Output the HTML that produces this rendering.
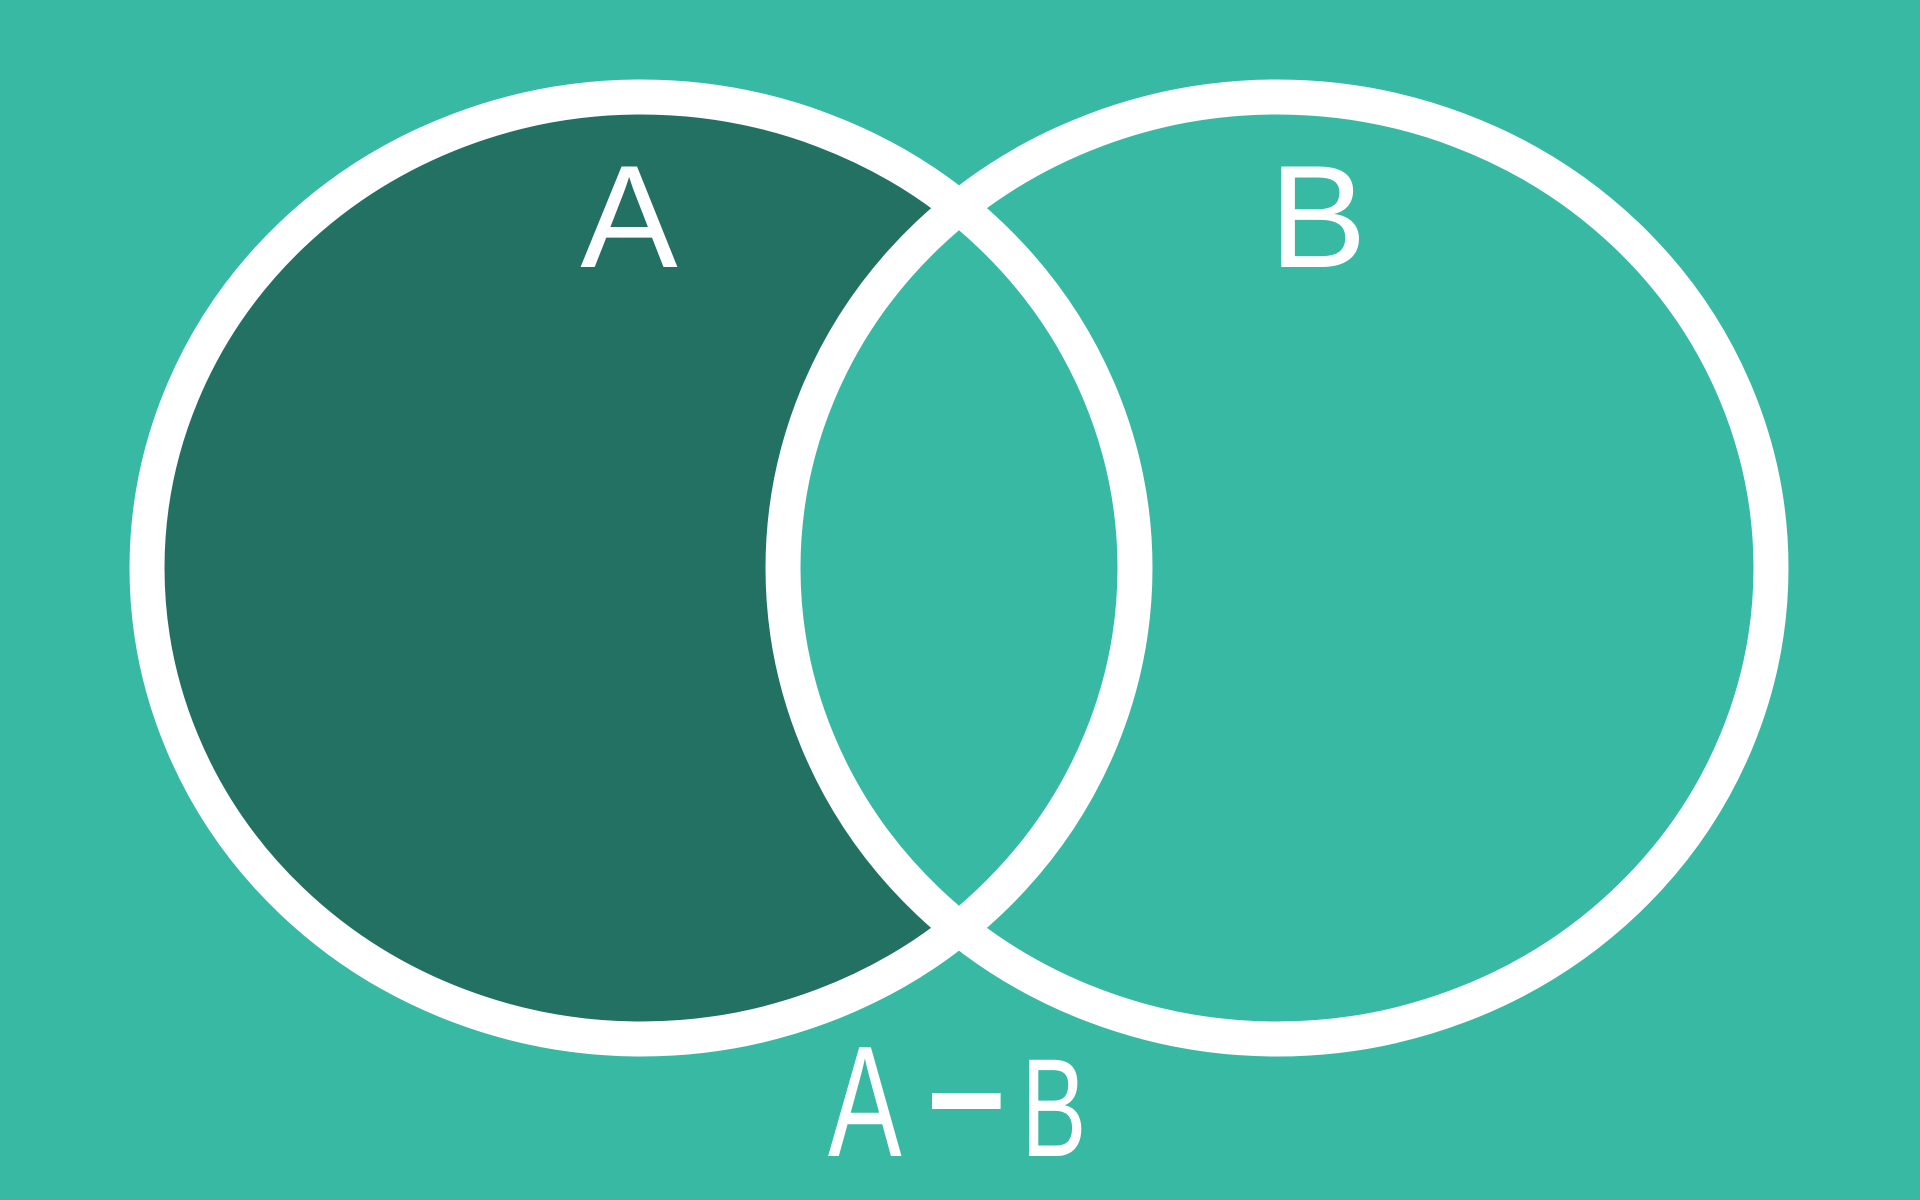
<!DOCTYPE html>
<html><head><meta charset="utf-8"><style>
html,body{margin:0;padding:0;background:#38b9a3;width:1920px;height:1200px;overflow:hidden}
svg{display:block}
</style></head><body>
<svg width="1920" height="1200" viewBox="0 0 1920 1200">
<rect width="1920" height="1200" fill="#38b9a3"/>
<ellipse cx="641" cy="568" rx="494" ry="471" fill="#237163"/>
<ellipse cx="1277" cy="568" rx="494" ry="471" fill="#38b9a3"/>
<ellipse cx="641" cy="568" rx="494" ry="471" fill="none" stroke="#fff" stroke-width="35"/>
<ellipse cx="1277" cy="568" rx="494" ry="471" fill="none" stroke="#fff" stroke-width="35"/>
<text x="629" y="267" font-family="Liberation Sans, sans-serif" font-size="146" fill="#fff" text-anchor="middle">A</text>
<text x="1318" y="267" font-family="Liberation Sans, sans-serif" font-size="146" fill="#fff" text-anchor="middle">B</text>
<g transform="translate(967,1156) scale(0.7,1)">
<text x="-146" y="0" font-family="Liberation Sans, sans-serif" font-size="158" fill="#fff" text-anchor="middle">A</text>
<rect x="-50" y="-63" width="98" height="16" fill="#fff"/>
<text x="124" y="0" font-family="Liberation Sans, sans-serif" font-size="140" fill="#fff" text-anchor="middle">B</text>
</g>
</svg>
</body></html>
